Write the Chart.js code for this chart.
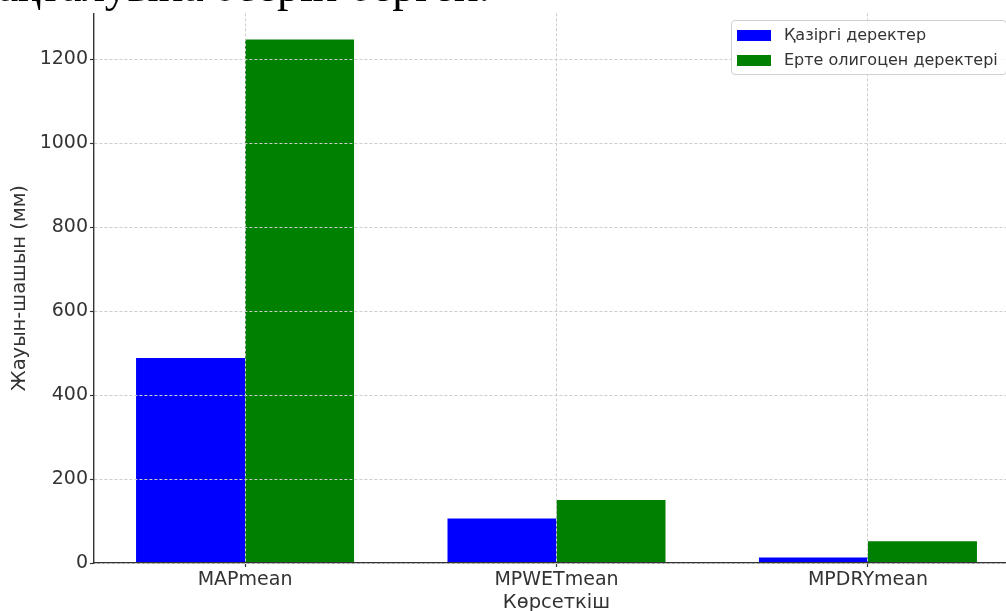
<!DOCTYPE html>
<html>
<head>
  <meta charset="utf-8">
  <script src="https://cdn.jsdelivr.net/npm/chart.js@4/dist/chart.umd.min.js"></script>
  <style>
    html, body { margin: 0; padding: 0; overflow: hidden; background: #fff; }
    #wrap { position: relative; width: 1006px; height: 611px; overflow: hidden; }
    #box { position: absolute; left: 0; top: 0; width: 1024px; height: 625px; }
    #caption {
      position: absolute; right: 516px; top: -37px; white-space: nowrap;
      font: 46px/46px "Liberation Serif", serif; color: #000;
    }
    #legend {
      position: absolute; left: 731px; top: 20px; padding: 1px 8px 2px 5px;
      border: 1px solid #d0d0d0; border-radius: 4px; background: rgba(255,255,255,0.85);
      font: 16px/25px "DejaVu Sans", sans-serif; color: #333; white-space: nowrap;
    }
    #legend span.sw { display: inline-block; width: 34px; height: 11px; margin-right: 13px; vertical-align: -1px; }
  </style>
  <script>
    var categories = ['MAPmean', 'MPWETmean', 'MPDRYmean'];
    var seriesNames = ['Қазіргі деректер', 'Ерте олигоцен деректері'];
    var presentValues = [488, 106, 13];
    var oligoceneValues = [1247, 150, 52];
    var yTicks = [0, 200, 400, 600, 800, 1000, 1200];
    var seriesColors = ['#0000ff', '#008000'];

    function toPoints(values) {
      return values.map(function (v, i) { return { x: i, y: v }; });
    }

    function drawGraph(canvasId) {
      var ctx = document.getElementById(canvasId).getContext('2d');
      var textColor = '#333333';
      var font = { family: 'DejaVu Sans', size: 19 };
      var titleFont = { family: 'DejaVu Sans', size: 19.5 };
      new Chart(ctx, {
        type: 'bar',
        data: {
          datasets: [
            { label: seriesNames[0], data: toPoints(presentValues), backgroundColor: seriesColors[0],
              borderWidth: 0, categoryPercentage: 0.7, barPercentage: 1.0 },
            { label: seriesNames[1], data: toPoints(oligoceneValues), backgroundColor: seriesColors[1],
              borderWidth: 0, categoryPercentage: 0.7, barPercentage: 1.0 }
          ]
        },
        options: {
          responsive: true,
          maintainAspectRatio: false,
          animation: false,
          layout: { padding: { top: 11, right: 5, left: 0, bottom: 0 } },
          plugins: { legend: { display: false }, tooltip: { enabled: false } },
          scales: {
            x: {
              type: 'linear',
              min: -0.485,
              max: 2.485,
              offset: false,
              afterBuildTicks: function (s) { s.ticks = categories.map(function (c, i) { return { value: i }; }); },
              afterFit: function (s) { s.height = 62; },
              ticks: {
                autoSkip: false, maxRotation: 0, padding: 2, color: textColor, font: font,
                callback: function (v) { return categories[v]; }
              },
              grid: { offset: false, color: '#cccccc', lineWidth: 1, z: 1, tickLength: 4, tickColor: '#333333', tickWidth: 1.2 },
              border: { color: '#333333', width: 1.4, dash: [3, 2], z: 1 },
              title: { display: true, text: 'Көрсеткіш', color: textColor,
                font: titleFont, padding: { top: 0, bottom: 10 } }
            },
            y: {
              min: 0,
              max: 1309,
              afterBuildTicks: function (s) { s.ticks = yTicks.map(function (v) { return { value: v }; }); },
              afterFit: function (s) { s.width = 94; },
              ticks: {
                padding: 2, color: textColor, font: font,
                callback: function (v) { return String(v); }
              },
              grid: { color: '#cccccc', lineWidth: 1, z: 1, tickLength: 4, tickColor: '#333333', tickWidth: 1.2 },
              border: { color: '#333333', width: 1.4, dash: [3, 2], z: 1 },
              title: { display: true, text: 'Жауын-шашын (мм)', color: textColor,
                font: titleFont, padding: { top: 8, bottom: 0 } }
            }
          }
        }
      });
    }

    window.onload = function () {
      var lg = document.getElementById('legend');
      lg.innerHTML = seriesNames.map(function (n, i) {
        return '<div><span class="sw" style="background:' + seriesColors[i] + '"></span>' + n + '</div>';
      }).join('');
      drawGraph('chart');
    };
  </script>
</head>
<body>
  <div id="wrap">
    <div id="box"><canvas id="chart"></canvas></div>
    <div id="caption">жинақталуына әсерін берген.</div>
    <div id="legend"></div>
  </div>
</body>
</html>
